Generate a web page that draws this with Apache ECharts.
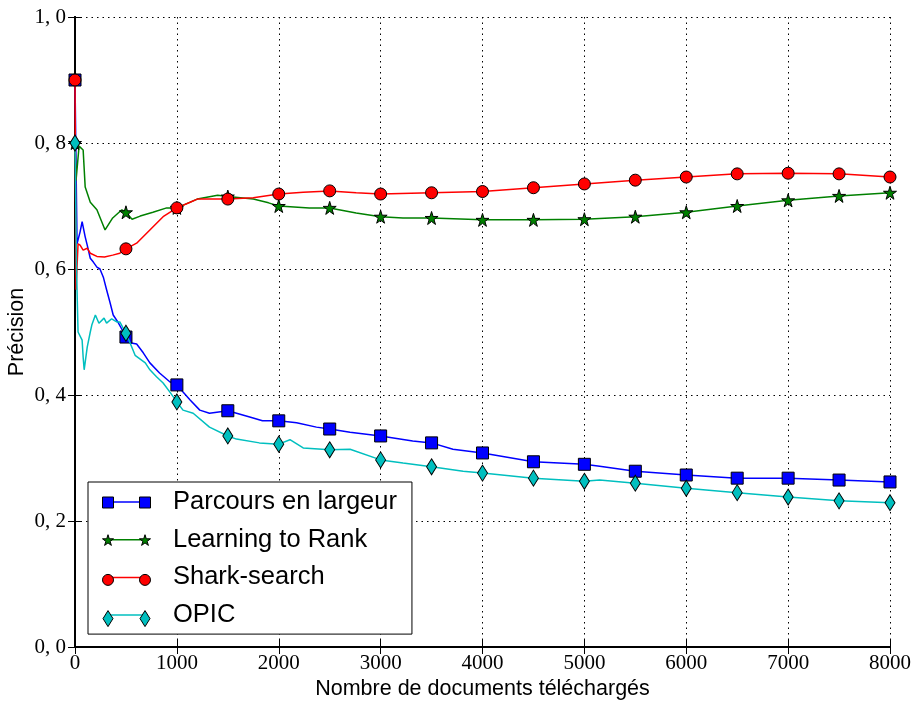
<!DOCTYPE html>
<html><head><meta charset="utf-8">
<script src="https://cdn.jsdelivr.net/npm/echarts@6/dist/echarts.min.js"></script>
<style>html,body{margin:0;padding:0;background:#fff}#c{width:912px;height:702px}</style>
</head><body><div id="c"></div>
<script>
const seriesNames = ['Parcours en largeur', 'Learning to Rank', 'Shark-search', 'OPIC'];
const xTitle = 'Nombre de documents téléchargés';
const yTitle = 'Précision';

const parcours = [[0,0.9],[20,0.64],[50,0.659],[70,0.675],[100,0.651],[120,0.638],[150,0.617],[180,0.611],[215,0.603],[245,0.6],[280,0.586],[310,0.567],[345,0.546],[375,0.527],[420,0.516],[475,0.5],[500,0.492],[540,0.483],[605,0.481],[670,0.467],[735,0.451],[830,0.435],[930,0.421],[1000,0.416],[1130,0.392],[1225,0.376],[1320,0.371],[1500,0.375],[1715,0.365],[1840,0.359],[2000,0.359],[2175,0.356],[2370,0.349],[2500,0.346],[2700,0.341],[3000,0.335],[3315,0.327],[3500,0.324],[3710,0.314],[4000,0.308],[4500,0.294],[5000,0.29],[5150,0.287],[5500,0.279],[6000,0.273],[6500,0.268],[7000,0.268],[7500,0.265],[8000,0.262]];
const learning = [[0,0.8],[10,0.74],[40,0.795],[80,0.789],[100,0.73],[150,0.706],[215,0.694],[295,0.662],[370,0.681],[460,0.694],[500,0.69],[560,0.679],[640,0.684],[765,0.69],[900,0.697],[1000,0.697],[1200,0.711],[1400,0.717],[1500,0.715],[1750,0.711],[1900,0.705],[2000,0.7],[2300,0.697],[2500,0.697],[2760,0.689],[3000,0.683],[3220,0.681],[3500,0.681],[4000,0.678],[4500,0.678],[5000,0.679],[5500,0.683],[6000,0.69],[6500,0.7],[7000,0.709],[7500,0.716],[8000,0.721]];
const shark = [[0,0.9],[10,0.567],[30,0.64],[50,0.638],[80,0.63],[120,0.633],[150,0.625],[215,0.62],[290,0.619],[370,0.622],[440,0.625],[500,0.632],[605,0.641],[735,0.662],[865,0.683],[1000,0.697],[1130,0.706],[1200,0.711],[1350,0.711],[1500,0.711],[1750,0.713],[2000,0.719],[2240,0.722],[2500,0.724],[2760,0.721],[3000,0.719],[3500,0.721],[4000,0.723],[4500,0.729],[5000,0.735],[5500,0.741],[6000,0.746],[6500,0.751],[7000,0.752],[7500,0.751],[8000,0.746]];
const opic = [[0,0.8],[15,0.6],[30,0.5],[70,0.487],[80,0.46],[90,0.44],[120,0.476],[150,0.5],[165,0.511],[200,0.527],[235,0.514],[285,0.522],[310,0.514],[360,0.521],[410,0.516],[440,0.516],[500,0.498],[540,0.483],[590,0.463],[640,0.457],[690,0.451],[735,0.44],[800,0.429],[865,0.419],[930,0.405],[1000,0.389],[1060,0.376],[1160,0.371],[1320,0.349],[1500,0.335],[1585,0.33],[1810,0.324],[2000,0.322],[2110,0.329],[2240,0.316],[2500,0.313],[2700,0.314],[3000,0.297],[3220,0.292],[3500,0.286],[3810,0.279],[4000,0.276],[4500,0.268],[5000,0.263],[5150,0.265],[5500,0.26],[6000,0.252],[6500,0.245],[7000,0.238],[7500,0.232],[8000,0.229]];

const markerStep = 500;
const colors = ['#0000ff', '#008000', '#ff0000', '#00bfbf'];
const starPath = 'path://M50,0L61,35L98,35L68,57L79,91L50,70L21,91L32,57L2,35L39,35Z';
const symbols = ['rect', starPath, 'circle', 'diamond'];
const symbolSizes = [12, 13, 12, [10, 16]];
const legendMarkerIcons = [
  'path://M0,2.5h11v11h-11z M37,2.5h11v11h-11z M0,0 M48,16',
  'path://M5.5,1.5L6.8,5.6L11,5.6L7.6,8.2L8.9,12.2L5.5,9.7L2.1,12.2L3.4,8.2L0,5.6L4.2,5.6Z M42.5,1.5L43.8,5.6L48,5.6L44.6,8.2L45.9,12.2L42.5,9.7L39.1,12.2L40.4,8.2L37,5.6L41.2,5.6Z M0,0 M48,16',
  'path://M0,8a5.5,5.5 0 1,0 11,0a5.5,5.5 0 1,0 -11,0z M37,8a5.5,5.5 0 1,0 11,0a5.5,5.5 0 1,0 -11,0z M0,0 M48,16',
  'path://M5.5,0L10.5,8L5.5,16L0.5,8Z M42.5,0L47.5,8L42.5,16L37.5,8Z M0,0 M48,16'
];
const allData = [parcours, learning, shark, opic];

function buildData(arr) {
  return arr.map(p => (p[0] % markerStep === 0) ? {value: p} : {value: p, symbol: 'none'});
}

const chart = echarts.init(document.getElementById('c'), null, {renderer: 'canvas'});
const tickFont = {fontFamily: 'Liberation Serif', fontSize: 21, color: '#000'};
const frame = {lineStyle: {color: '#000', width: 2}};
const tick = {show: true, inside: true, length: 7, lineStyle: {color: '#000', width: 1}};
const grid = {show: true, lineStyle: {color: '#000', width: 1, type: [1.5, 4]}};

chart.setOption({
  animation: false,
  backgroundColor: '#fff',
  grid: {left: 75, right: 22, top: 17, bottom: 55, containLabel: false, outerBoundsMode: 'none'},
  xAxis: [
    {type: 'value', min: 0, max: 8000, interval: 1000, position: 'bottom',
     axisLine: frame, axisTick: tick, splitLine: grid,
     axisLabel: Object.assign({margin: 6, formatter: v => String(v)}, tickFont),
     name: xTitle, nameLocation: 'middle', nameGap: 31, nameMoveOverlap: false,
     nameTextStyle: {fontFamily: 'Liberation Sans', fontSize: 21.5, color: '#000'}},
    {type: 'value', min: 0, max: 8000, interval: 1000, position: 'top',
     axisLine: frame, axisTick: tick, splitLine: {show: false}, axisLabel: {show: false}}
  ],
  yAxis: [
    {type: 'value', min: 0, max: 1, interval: 0.2, position: 'left',
     axisLine: frame, axisTick: tick, splitLine: grid,
     axisLabel: Object.assign({margin: 9, formatter: v => v.toFixed(1).replace('.', ', ')}, tickFont),
     name: yTitle, nameLocation: 'middle', nameGap: 47, nameRotate: 90, nameMoveOverlap: false,
     nameTextStyle: {fontFamily: 'Liberation Sans', fontSize: 21.5, color: '#000'}},
    {type: 'value', min: 0, max: 1, interval: 0.2, position: 'right',
     axisLine: frame, axisTick: tick, splitLine: {show: false}, axisLabel: {show: false}}
  ],
  legend: [
    {id: 'lgLines', orient: 'vertical', left: 88, top: 482, z: 5,
     padding: [7, 15, 6, 14], itemGap: 11.7, itemWidth: 66, itemHeight: 16,
     backgroundColor: '#fff', borderColor: '#000', borderWidth: 1, borderRadius: 0,
     selectedMode: false,
     textStyle: {fontFamily: 'Liberation Sans', fontSize: 25.5, color: '#000', lineHeight: 26},
     data: seriesNames.map((n, i) => ({name: n, icon: 'path://M5.5,7.25h37v1.5h-37z M0,0 M66,16',
       itemStyle: {color: colors[i], borderWidth: 0}}))},
    {id: 'lgMarks', orient: 'vertical', left: 102, top: 494, z: 6,
     padding: 0, itemGap: 21.7, itemWidth: 48, itemHeight: 16,
     selectedMode: false, formatter: () => '',
     textStyle: {fontSize: 10},
     data: seriesNames.map((n, i) => ({name: n, icon: legendMarkerIcons[i],
       itemStyle: {color: colors[i], borderColor: '#000', borderWidth: 1}}))}
  ],
  series: seriesNames.map((n, i) => ({
    name: n, type: 'line', xAxisIndex: 0, yAxisIndex: 0,
    data: buildData(allData[i]),
    symbol: symbols[i], symbolSize: symbolSizes[i], showSymbol: true, showAllSymbol: true,
    lineStyle: {color: colors[i], width: 1.5},
    itemStyle: {color: colors[i], borderColor: '#000', borderWidth: 1},
    emphasis: {disabled: true}, z: 2 + i * 0.1
  }))
});
</script></body></html>
